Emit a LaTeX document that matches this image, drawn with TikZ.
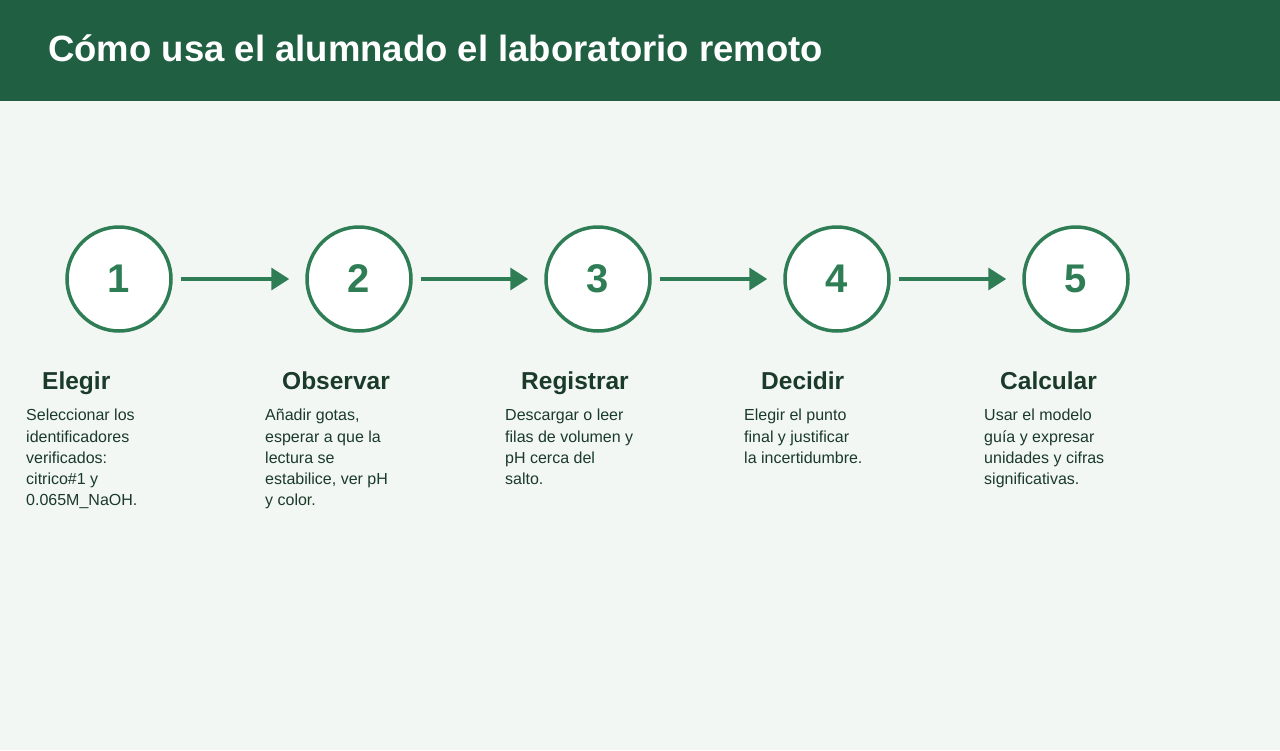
\documentclass[tikz,border=0pt]{standalone}
\usepackage{fontspec}
\setmainfont{Liberation Sans}
\usepackage{xcolor}
\usetikzlibrary{positioning,arrows.meta}
\definecolor{headgreen}{HTML}{215F43}
\definecolor{stepgreen}{HTML}{2E7D55}
\definecolor{pagebg}{HTML}{F3F7F3}
\definecolor{darktext}{HTML}{1A3A2A}
\tikzset{
  stepcircle/.style={circle, draw=stepgreen, line width=3.5pt, fill=white, minimum size=104pt, inner sep=0pt,
    text=stepgreen, font=\fontsize{40}{44}\selectfont\bfseries},
  flow/.style={draw=stepgreen, line width=3.5pt, shorten <=8pt, shorten >=16pt, -{Triangle[length=18pt,width=22pt]}},
  head/.style={anchor=base west, text=darktext, font=\fontsize{24.5}{28}\selectfont\bfseries, inner sep=0pt},
  body/.style={anchor=north west, align=left, text=darktext, font=\fontsize{16}{21.2}\selectfont, inner sep=0pt}
}
\begin{document}
\begin{tikzpicture}[x=1pt,y=-1pt]
        % Background and title bar
        \fill[pagebg] (0,0) rectangle (1280,750);
        \fill[headgreen] (0,0) rectangle (1280,101);
        \node[anchor=base west, text=white, font=\fontsize{36.5}{40}\selectfont\bfseries, inner sep=0pt] (title) at (48,61) {Cómo usa el alumnado el laboratorio remoto};

        % Steps
        \foreach \n/\x in {1/119,2/359,3/598,4/837,5/1076}
          \node[stepcircle] (s\n) at (\x,279) {\n};

        % Arrows
        \foreach \a/\b in {1/2,2/3,3/4,4/5}
          \draw[flow] (s\a) -- (s\b);

        % Labels
        \node[head] (h1) at (42,389) {Elegir};
        \node[head] (h2) at (282,389) {Observar};
        \node[head] (h3) at (521,389) {Registrar};
        \node[head] (h4) at (761,389) {Decidir};
        \node[head] (h5) at (1000,389) {Calcular};

        \node[body] (t1) at (26,409) {Seleccionar los\\identificadores\\verificados:\\citrico\#1 y\\0.065M\_NaOH.};
        \node[body] (t2) at (265,409) {Añadir gotas,\\esperar a que la\\lectura se\\estabilice, ver pH\\y color.};
        \node[body] (t3) at (505,409) {Descargar o leer\\filas de volumen y\\pH cerca del\\salto.};
        \node[body] (t4) at (744,409) {Elegir el punto\\final y justificar\\la incertidumbre.};
        \node[body] (t5) at (984,409) {Usar el modelo\\guía y expresar\\unidades y cifras\\significativas.};
\end{tikzpicture}
\end{document}
